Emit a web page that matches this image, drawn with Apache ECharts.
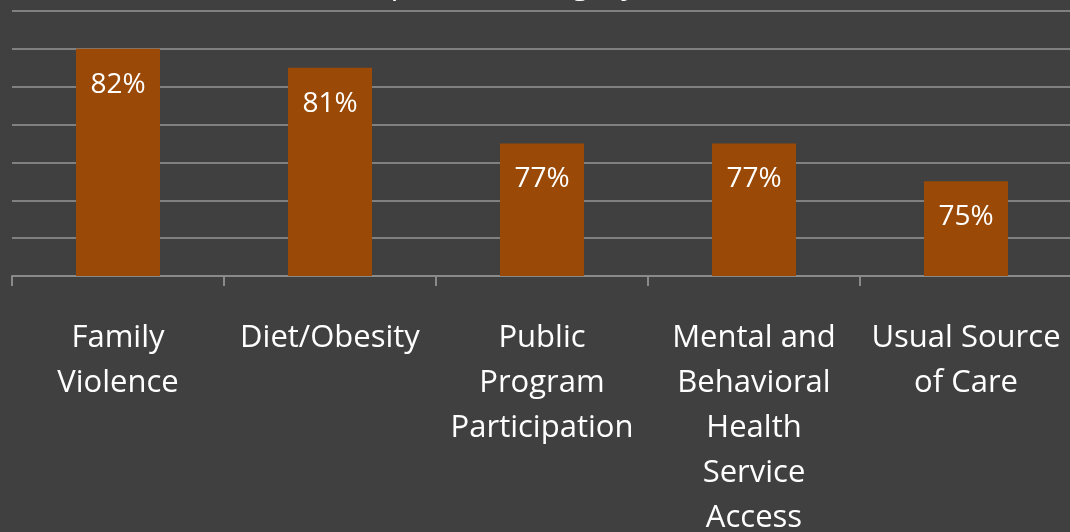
<!DOCTYPE html>
<html>
<head>
<meta charset="utf-8">
<script src="https://cdn.jsdelivr.net/npm/echarts@6/dist/echarts.min.js"></script>
<style>
  html, body { margin: 0; padding: 0; background: #404040; }
  #chart { width: 1070px; height: 532px; }
</style>
</head>
<body>
<div id="chart"></div>
<script>
const categories = [
  'Family\nViolence',
  'Diet/Obesity',
  'Public\nProgram\nParticipation',
  'Mental and\nBehavioral\nHealth\nService\nAccess',
  'Usual Source\nof Care'
]
const values = [82, 81, 77, 77, 75]

const FONT = '"Open Sans", "DejaVu Sans", sans-serif'

const chart = echarts.init(document.getElementById('chart'), null, { renderer: 'canvas' })

chart.setOption({
  backgroundColor: '#404040',
  animation: false,
  title: {
    text: 'Improved Category',
    left: 352,
    top: -34,
    padding: 0,
    textStyle: { color: '#ffffff', fontSize: 32, fontWeight: 'normal', fontFamily: FONT, lineHeight: 36 }
  },
  grid: { left: 12, right: -2, top: 11, bottom: 256, outerBoundsMode: 'none' },
  xAxis: {
    type: 'category',
    data: categories,
    axisLine: { lineStyle: { color: '#8a8a8a', width: 2 } },
    axisTick: { show: true, length: 10, lineStyle: { color: '#8a8a8a', width: 2 } },
    axisLabel: {
      color: '#ffffff',
      fontSize: 31,
      fontFamily: FONT,
      lineHeight: 45,
      margin: 40,
      interval: 0
    }
  },
  yAxis: {
    type: 'value',
    min: 70,
    max: 84,
    interval: 2,
    axisLabel: { show: false },
    axisLine: { show: false },
    axisTick: { show: false },
    splitLine: { lineStyle: { color: '#808080', width: 2 } }
  },
  series: [{
    type: 'bar',
    data: values,
    barWidth: 84,
    itemStyle: { color: '#9a4a06' },
    label: {
      show: true,
      position: 'insideTop',
      distance: 22,
      formatter: '{c}%',
      color: '#ffffff',
      fontSize: 28,
      fontFamily: FONT
    }
  }]
})
</script>
</body>
</html>
